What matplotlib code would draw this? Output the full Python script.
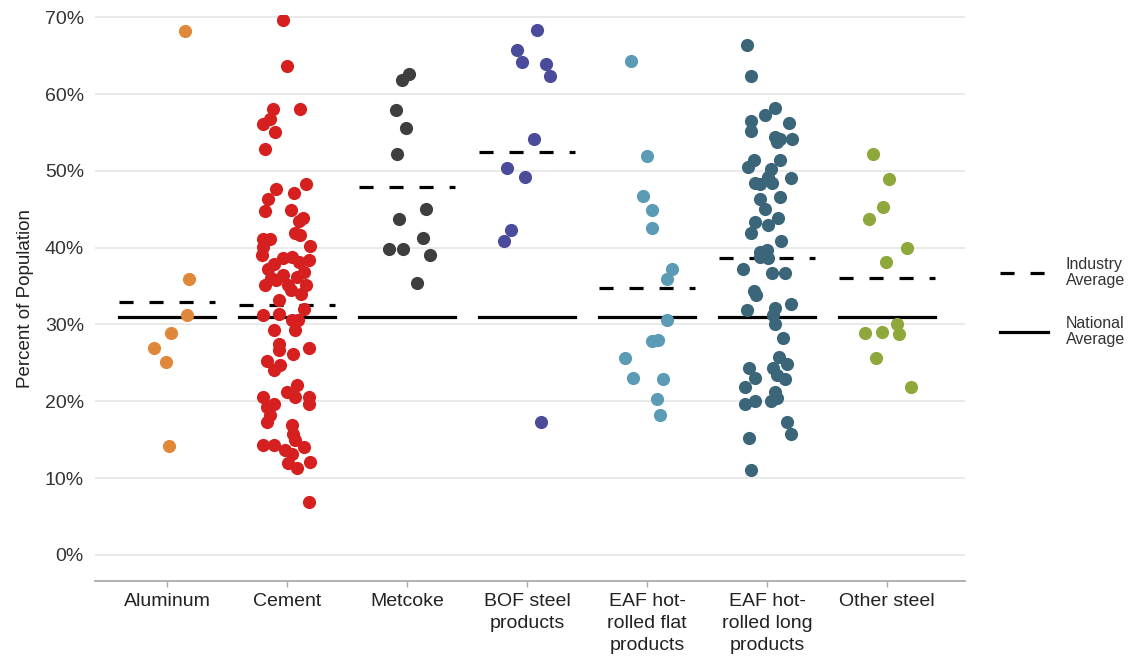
import matplotlib.pyplot as plt
from matplotlib.lines import Line2D

plt.rcParams['font.family'] = ['Liberation Sans', 'DejaVu Sans']

# categories and colours
categories = ["Aluminum", "Cement", "Metcoke", "BOF steel\nproducts",
              "EAF hot-\nrolled flat\nproducts", "EAF hot-\nrolled long\nproducts",
              "Other steel"]
colors = ["#E0883A", "#D61F1F", "#3E3E3E", "#4B4B9C", "#5B9BB5", "#3B6579", "#8EA83C"]

# percent of population for each facility (y) and jitter offset within the category (x)
aluminum = [68.2, 35.9, 31.2, 28.9, 27.0, 25.1, 14.2]
aluminum_jit = [0.15, 0.18, 0.17, 0.03, -0.11, -0.01, 0.02]

cement = [69.7, 63.7, 58.0, 58.0, 56.8, 56.1, 55.1, 52.8, 48.3, 47.7, 47.1, 46.4,
          44.8, 44.9, 43.9, 43.5, 41.1, 41.1, 41.9, 41.6, 40.2, 40.1, 39.0, 38.8,
          38.4, 38.6, 37.9, 37.2, 36.9, 36.4, 36.2, 35.8, 35.1, 35.1, 35.2, 34.5,
          33.2, 31.2, 31.4, 30.6, 30.6, 29.3, 29.3, 27.5, 26.9, 26.7, 26.2, 25.2,
          24.7, 24.1, 22.1, 21.2, 20.6, 20.6, 20.6, 19.7, 19.3, 19.7, 18.2, 17.3,
          16.9, 15.8, 15.0, 14.3, 14.3, 13.7, 14.1, 13.1, 11.9, 11.3, 12.1, 6.9,
          36.0, 34.0, 38.1, 32.0]
cement_jit = [-0.03, 0.00, -0.12, 0.11, -0.14, -0.20, -0.10, -0.18, 0.16, -0.09, 0.06, -0.16,
              -0.18, 0.03, 0.13, 0.10, -0.20, -0.14, 0.07, 0.11, 0.19, -0.20, -0.21, 0.04,
              0.18, -0.03, -0.11, -0.16, 0.14, -0.03, 0.08, -0.09, -0.18, 0.16, 0.01, 0.03,
              -0.07, -0.20, -0.07, 0.04, 0.09, 0.07, -0.11, -0.07, 0.18, -0.07, 0.05, -0.17,
              -0.06, -0.11, 0.08, 0.00, 0.07, 0.18, -0.20, 0.18, -0.17, -0.11, -0.14, -0.17,
              0.04, 0.05, 0.07, -0.20, -0.11, -0.02, 0.14, 0.04, 0.01, 0.08, 0.19, 0.18,
              -0.13, 0.12, 0.10, 0.14]

metcoke = [62.6, 61.8, 57.9, 55.6, 52.2, 45.1, 43.8, 41.2, 39.8, 39.8, 39.1, 35.4]
metcoke_jit = [0.02, -0.04, -0.09, -0.01, -0.08, 0.16, -0.07, 0.13, -0.15, -0.03, 0.19, 0.08]

bof = [68.4, 65.8, 64.2, 63.9, 62.4, 54.2, 50.4, 49.2, 42.3, 40.9, 17.3]
bof_jit = [0.08, -0.08, -0.04, 0.16, 0.19, 0.06, -0.17, -0.02, -0.13, -0.19, 0.12]

eaf_flat = [64.3, 52.0, 46.7, 44.9, 42.6, 37.2, 35.9, 30.6, 27.8, 28.0, 25.7, 23.0,
            22.9, 20.3, 18.2]
eaf_flat_jit = [-0.13, 0.00, -0.03, 0.04, 0.04, 0.21, 0.17, 0.17, 0.04, 0.09, -0.18, -0.12,
                0.13, 0.08, 0.11]

eaf_long = [66.4, 62.3, 58.2, 57.3, 56.5, 56.2, 55.2, 54.4, 54.2, 54.2, 53.8, 51.4,
            51.4, 50.5, 50.3, 49.1, 48.4, 48.3, 48.4, 49.2, 46.6, 46.4, 45.1, 43.9,
            43.4, 42.9, 41.9, 40.9, 39.5, 39.7, 38.8, 38.6, 37.2, 36.7, 36.7, 34.4,
            33.8, 31.9, 32.1, 32.7, 31.2, 30.1, 28.2, 25.8, 24.9, 24.4, 24.4, 23.4,
            22.9, 23.0, 21.9, 21.2, 19.7, 20.0, 20.0, 20.4, 17.3, 15.8, 15.2, 11.1]
eaf_long_jit = [-0.17, -0.13, 0.07, -0.02, -0.13, 0.18, -0.13, 0.07, 0.11, 0.21, 0.08, -0.11,
                0.11, -0.16, 0.03, 0.20, -0.10, -0.06, 0.04, 0.01, 0.11, -0.06, -0.02, 0.09,
                -0.10, 0.01, -0.13, 0.12, -0.06, 0.00, -0.06, 0.01, -0.20, 0.04, 0.15, -0.11,
                -0.09, -0.17, 0.07, 0.20, 0.05, 0.07, 0.13, 0.10, 0.17, -0.15, 0.05, 0.08,
                0.15, -0.10, -0.18, 0.07, -0.18, -0.10, 0.03, 0.08, 0.17, 0.20, -0.15, -0.13]

other = [52.2, 49.0, 45.3, 43.7, 40.0, 38.1, 30.1, 28.9, 29.0, 28.8, 25.7, 21.9]
other_jit = [-0.12, 0.02, -0.03, -0.15, 0.17, -0.01, 0.08, -0.18, -0.04, 0.10, -0.09, 0.20]

industry_avg = [32.9, 32.5, 47.9, 52.4, 34.8, 38.7, 36.1]
national_avg = 31.0

series = [(aluminum, aluminum_jit), (cement, cement_jit), (metcoke, metcoke_jit),
          (bof, bof_jit), (eaf_flat, eaf_flat_jit), (eaf_long, eaf_long_jit),
          (other, other_jit)]

# -------------------------------
# figure
# -------------------------------
fig = plt.figure(figsize=(11.3, 6.56), dpi=100)
ax = fig.add_axes([95 / 1130, 1 - 581 / 656, 870 / 1130, 566 / 656])

dash = (0, (4.4, 5))
for i, (vals, jit) in enumerate(series):
    xs = [i + j for j in jit]
    ax.scatter(xs, vals, s=90, color=colors[i], linewidths=0, zorder=3)
    ax.plot([i - 0.4, i + 0.4], [industry_avg[i]] * 2, color="black",
            lw=2.3, linestyle=dash, zorder=2)
    ax.plot([i - 0.4, i + 0.4], [national_avg] * 2, color="black",
            lw=2.3, zorder=2)

ax.set_xlim(-0.6, 6.65)
ax.set_ylim(-3.4, 70.3)
ax.set_yticks(range(0, 71, 10))
ax.set_yticklabels([f"{v}%" for v in range(0, 71, 10)])
ax.set_xticks(range(len(categories)))
ax.set_xticklabels(categories, linespacing=1.35)
ax.yaxis.grid(True, color="#e8e8e8", lw=1.3)
ax.set_axisbelow(True)

for side in ["top", "right", "left"]:
    ax.spines[side].set_visible(False)
ax.spines["bottom"].set_color("#aaaaaa")
ax.spines["bottom"].set_linewidth(1.3)

ax.tick_params(axis="y", length=0, pad=8, labelsize=14, labelcolor="#333333")
ax.tick_params(axis="x", length=4, width=1, color="#aaaaaa", pad=5,
               labelsize=14, labelcolor="#222222")
ax.set_ylabel("Percent of Population", fontsize=13.5, color="#222222", labelpad=8)

handles = [Line2D([], [], color="black", lw=2.3, linestyle=dash),
           Line2D([], [], color="black", lw=2.3)]
leg = ax.legend(handles, ["Industry\nAverage", "National\nAverage"],
                loc="center left", bbox_to_anchor=(1000 / 1130, 1 - 302 / 656),
                bbox_transform=fig.transFigure, frameon=False, fontsize=11.5,
                borderpad=0, borderaxespad=0, handlelength=3.0,
                handletextpad=1.1, labelspacing=1.7)
for t in leg.get_texts():
    t.set_color("#333333")
    t.set_linespacing(1.1)

fig.savefig("out.png", dpi=100)
